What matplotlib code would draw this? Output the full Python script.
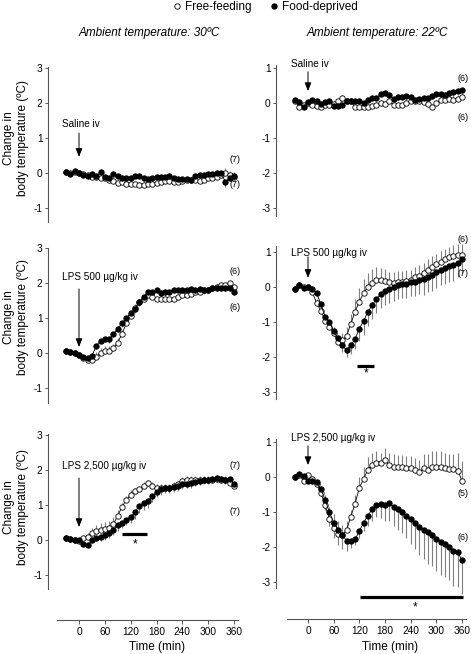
import matplotlib
matplotlib.use("Agg")
import matplotlib.pyplot as plt
from matplotlib.lines import Line2D
import numpy as np

plt.rcParams['font.family'] = ['Liberation Sans', 'DejaVu Sans']

# ---------------- data ----------------
time_min = [-30, -20, -10, 0, 10, 20, 30, 40, 50, 60, 70, 80, 90, 100, 110, 120, 130, 140, 150, 160,
            170, 180, 190, 200, 210, 220, 230, 240, 250, 260, 270, 280, 290, 300, 310, 320, 330, 340, 350, 360]
x_ticks = [0, 60, 120, 180, 240, 300, 360]
y_ticks_30 = [-1, 0, 1, 2, 3]
y_ticks_22 = [-3, -2, -1, 0, 1]

# Saline, 30 C
sal30_free = [0.03, 0.0, 0.04, 0.0, -0.03, -0.07, -0.1, -0.12, -0.15, -0.15,
              -0.2, -0.22, -0.28, -0.25, -0.3, -0.32, -0.3, -0.35, -0.35, -0.32,
              -0.3, -0.28, -0.25, -0.22, -0.22, -0.25, -0.25, -0.22, -0.2, -0.2,
              -0.2, -0.22, -0.2, -0.15, -0.15, -0.12, -0.05, 0.0, -0.05, -0.1]
sal30_free_sem = [0.04, 0.04, 0.04, 0.04, 0.05, 0.05, 0.06, 0.06, 0.07, 0.07,
                  0.07, 0.08, 0.08, 0.08, 0.08, 0.08, 0.08, 0.08, 0.08, 0.08,
                  0.08, 0.08, 0.08, 0.08, 0.08, 0.08, 0.08, 0.08, 0.08, 0.08,
                  0.1, 0.1, 0.1, 0.12, 0.12, 0.12, 0.12, 0.15, 0.12, 0.12]
sal30_fd = [0.04, -0.03, 0.07, 0.0, -0.06, -0.08, -0.03, -0.09, 0.02, -0.1,
            -0.15, -0.03, -0.08, -0.13, -0.15, -0.13, -0.08, -0.08, -0.15, -0.17,
            -0.13, -0.12, -0.1, -0.12, -0.09, -0.15, -0.17, -0.16, -0.18, -0.2,
            -0.08, -0.06, -0.06, -0.02, -0.03, -0.01, -0.01, -0.25, -0.13, -0.08]
sal30_fd_sem = [0.04, 0.04, 0.04, 0.04, 0.05, 0.05, 0.05, 0.05, 0.06, 0.06,
                0.06, 0.06, 0.06, 0.06, 0.07, 0.07, 0.07, 0.07, 0.07, 0.07,
                0.07, 0.07, 0.07, 0.07, 0.07, 0.07, 0.07, 0.07, 0.07, 0.08,
                0.08, 0.08, 0.08, 0.08, 0.08, 0.08, 0.1, 0.15, 0.1, 0.1]

# Saline, 22 C
sal22_free = [0.05, -0.1, -0.05, 0.0, -0.05, -0.08, -0.12, -0.05, -0.05, -0.02,
              0.05, 0.15, 0.05, 0.05, -0.1, -0.1, -0.12, -0.1, -0.08, -0.05,
              0.0, -0.02, 0.05, -0.05, -0.05, -0.05, 0.0, 0.05, 0.05, 0.05,
              0.02, -0.02, -0.12, 0.0, 0.08, 0.1, 0.12, 0.1, 0.12, 0.17]
sal22_free_sem = [0.05, 0.05, 0.05, 0.05, 0.05, 0.06, 0.06, 0.06, 0.06, 0.07,
                  0.07, 0.08, 0.08, 0.08, 0.08, 0.08, 0.08, 0.08, 0.08, 0.08,
                  0.08, 0.08, 0.08, 0.08, 0.08, 0.08, 0.08, 0.08, 0.08, 0.08,
                  0.1, 0.1, 0.1, 0.1, 0.12, 0.12, 0.12, 0.12, 0.12, 0.12]
sal22_fd = [0.1, 0.02, -0.12, 0.02, 0.1, 0.05, -0.02, 0.02, 0.05, -0.08,
            -0.08, -0.05, 0.05, 0.05, 0.05, 0.05, 0.0, 0.1, 0.15, 0.15,
            0.25, 0.28, 0.22, 0.12, 0.18, 0.18, 0.2, 0.18, 0.1, 0.12,
            0.15, 0.15, 0.2, 0.25, 0.25, 0.22, 0.28, 0.32, 0.35, 0.38]
sal22_fd_sem = [0.04, 0.04, 0.05, 0.05, 0.05, 0.05, 0.05, 0.05, 0.05, 0.06,
                0.06, 0.06, 0.06, 0.06, 0.06, 0.06, 0.06, 0.06, 0.06, 0.06,
                0.06, 0.06, 0.06, 0.06, 0.06, 0.06, 0.06, 0.06, 0.06, 0.06,
                0.06, 0.06, 0.06, 0.06, 0.06, 0.06, 0.06, 0.06, 0.06, 0.06]

# LPS 500, 30 C
lps500_30_free = [0.05, 0.02, 0.0, -0.05, -0.15, -0.2, -0.2, -0.1, 0.0, 0.05,
                  0.05, 0.15, 0.3, 0.55, 0.85, 1.05, 1.3, 1.45, 1.55, 1.65,
                  1.6, 1.55, 1.55, 1.55, 1.55, 1.55, 1.6, 1.65, 1.65, 1.7,
                  1.75, 1.75, 1.8, 1.8, 1.85, 1.9, 1.95, 1.95, 2.0, 1.9]
lps500_30_free_sem = [0.04, 0.04, 0.04, 0.04, 0.05, 0.05, 0.08, 0.12, 0.15, 0.15,
                      0.15, 0.12, 0.12, 0.1, 0.1, 0.1, 0.1, 0.08, 0.08, 0.06,
                      0.06, 0.06, 0.06, 0.06, 0.06, 0.06, 0.06, 0.06, 0.06, 0.06,
                      0.06, 0.06, 0.06, 0.06, 0.06, 0.06, 0.06, 0.06, 0.06, 0.06]
lps500_30_fd = [0.05, 0.02, 0.0, -0.05, -0.12, -0.15, -0.08, 0.2, 0.35, 0.4,
                0.4, 0.55, 0.7, 0.85, 1.0, 1.15, 1.25, 1.45, 1.6, 1.75,
                1.75, 1.8, 1.72, 1.75, 1.75, 1.8, 1.8, 1.8, 1.8, 1.82,
                1.8, 1.82, 1.8, 1.8, 1.85, 1.85, 1.85, 1.85, 1.85, 1.75]
lps500_30_fd_sem = [0.04, 0.04, 0.04, 0.04, 0.05, 0.05, 0.06, 0.08, 0.08, 0.08,
                    0.1, 0.1, 0.1, 0.12, 0.12, 0.12, 0.1, 0.1, 0.1, 0.1,
                    0.08, 0.08, 0.08, 0.08, 0.08, 0.08, 0.08, 0.08, 0.08, 0.08,
                    0.08, 0.08, 0.08, 0.08, 0.08, 0.08, 0.08, 0.08, 0.08, 0.08]

# LPS 500, 22 C
lps500_22_free = [-0.05, 0.05, 0.0, 0.0, -0.15, -0.45, -0.68, -0.96, -1.13, -1.32,
                  -1.56, -1.51, -1.4, -1.06, -0.7, -0.42, -0.17, 0.0, 0.11, 0.19,
                  0.2, 0.16, 0.13, 0.12, 0.15, 0.15, 0.18, 0.2, 0.28, 0.32,
                  0.4, 0.5, 0.58, 0.65, 0.72, 0.8, 0.85, 0.9, 0.92, 0.92]
lps500_22_free_sem = [0.05, 0.05, 0.05, 0.05, 0.08, 0.1, 0.12, 0.15, 0.15, 0.18,
                      0.2, 0.2, 0.25, 0.3, 0.35, 0.4, 0.4, 0.4, 0.4, 0.38,
                      0.35, 0.35, 0.3, 0.3, 0.3, 0.3, 0.3, 0.3, 0.3, 0.3,
                      0.3, 0.3, 0.3, 0.3, 0.3, 0.3, 0.3, 0.3, 0.3, 0.3]
lps500_22_fd = [-0.05, 0.05, -0.02, 0.0, -0.05, -0.17, -0.49, -0.85, -1.0, -1.26,
                -1.46, -1.67, -1.8, -1.67, -1.48, -1.19, -0.97, -0.71, -0.52, -0.34,
                -0.2, -0.12, -0.06, 0.0, 0.05, 0.08, 0.1, 0.15, 0.15, 0.2,
                0.22, 0.3, 0.35, 0.42, 0.5, 0.55, 0.6, 0.62, 0.68, 0.8]
lps500_22_fd_sem = [0.05, 0.05, 0.05, 0.05, 0.08, 0.1, 0.12, 0.15, 0.15, 0.15,
                    0.15, 0.18, 0.2, 0.25, 0.3, 0.35, 0.4, 0.4, 0.4, 0.4,
                    0.4, 0.4, 0.4, 0.4, 0.4, 0.4, 0.4, 0.4, 0.4, 0.4,
                    0.45, 0.45, 0.45, 0.45, 0.45, 0.45, 0.45, 0.45, 0.4, 0.4]

# LPS 2500, 30 C
lps2500_30_free = [0.05, 0.02, 0.0, -0.02, 0.05, 0.1, 0.2, 0.25, 0.3, 0.32,
                   0.35, 0.45, 0.7, 0.95, 1.15, 1.3, 1.4, 1.45, 1.55, 1.62,
                   1.55, 1.5, 1.5, 1.5, 1.5, 1.55, 1.6, 1.7, 1.72, 1.72,
                   1.72, 1.72, 1.72, 1.72, 1.72, 1.75, 1.72, 1.72, 1.62, 1.55]
lps2500_30_free_sem = [0.04, 0.04, 0.04, 0.04, 0.06, 0.1, 0.15, 0.18, 0.2, 0.2,
                       0.2, 0.2, 0.15, 0.12, 0.12, 0.12, 0.1, 0.1, 0.1, 0.1,
                       0.1, 0.1, 0.1, 0.1, 0.1, 0.1, 0.1, 0.1, 0.1, 0.1,
                       0.1, 0.1, 0.1, 0.1, 0.1, 0.1, 0.1, 0.1, 0.1, 0.1]
lps2500_30_fd = [0.05, 0.02, 0.0, 0.0, -0.1, -0.15, 0.0, 0.06, 0.1, 0.15,
                 0.2, 0.3, 0.42, 0.5, 0.58, 0.65, 0.8, 0.98, 1.05, 1.12,
                 1.25, 1.37, 1.45, 1.5, 1.5, 1.52, 1.55, 1.6, 1.6, 1.62,
                 1.65, 1.7, 1.72, 1.72, 1.75, 1.78, 1.75, 1.72, 1.75, 1.6]
lps2500_30_fd_sem = [0.04, 0.04, 0.04, 0.04, 0.05, 0.06, 0.08, 0.1, 0.12, 0.15,
                     0.15, 0.15, 0.15, 0.15, 0.15, 0.15, 0.2, 0.2, 0.2, 0.2,
                     0.15, 0.15, 0.15, 0.15, 0.15, 0.15, 0.15, 0.15, 0.12, 0.12,
                     0.12, 0.12, 0.12, 0.12, 0.12, 0.12, 0.12, 0.12, 0.12, 0.12]

# LPS 2500, 22 C
lps2500_22_free = [0.0, 0.05, -0.12, 0.05, -0.05, -0.2, -0.45, -0.8, -1.2, -1.45,
                   -1.62, -1.67, -1.52, -1.14, -0.76, -0.31, -0.05, 0.21, 0.35, 0.4,
                   0.4, 0.48, 0.35, 0.3, 0.28, 0.28, 0.25, 0.25, 0.2, 0.15,
                   0.25, 0.2, 0.3, 0.3, 0.28, 0.25, 0.22, 0.22, 0.18, -0.1]
lps2500_22_free_sem = [0.05, 0.05, 0.05, 0.05, 0.08, 0.12, 0.2, 0.3, 0.35, 0.4,
                       0.35, 0.3, 0.25, 0.2, 0.25, 0.3, 0.35, 0.35, 0.35, 0.35,
                       0.3, 0.35, 0.35, 0.35, 0.35, 0.35, 0.35, 0.35, 0.35, 0.35,
                       0.4, 0.45, 0.45, 0.45, 0.45, 0.45, 0.45, 0.45, 0.5, 0.55]
lps2500_22_fd = [0.0, 0.1, 0.02, -0.12, -0.12, -0.15, -0.35, -0.65, -1.0, -1.3,
                 -1.5, -1.65, -1.82, -1.82, -1.78, -1.55, -1.3, -1.1, -0.92, -0.8,
                 -0.78, -0.8, -0.75, -0.85, -0.9, -1.0, -1.1, -1.2, -1.3, -1.42,
                 -1.5, -1.58, -1.65, -1.78, -1.85, -1.9, -2.0, -2.1, -2.15, -2.38]
lps2500_22_fd_sem = [0.05, 0.05, 0.05, 0.05, 0.08, 0.12, 0.2, 0.3, 0.4, 0.45,
                     0.45, 0.4, 0.3, 0.2, 0.15, 0.2, 0.25, 0.3, 0.35, 0.35,
                     0.4, 0.45, 0.5, 0.55, 0.6, 0.6, 0.65, 0.7, 0.75, 0.8,
                     0.85, 0.9, 0.9, 0.9, 0.95, 0.95, 0.95, 1.0, 1.0, 0.95]

W, H = 471, 654
fig = plt.figure(figsize=(W / 100, H / 100), dpi=100)

UNIT = 35.0  # px per degree
MS = 3.9


def make_ax(left_px, width_px, zero_px, top_px, bottom_px, xmin, xmax):
    ax = fig.add_axes([left_px / W, 1 - bottom_px / H, width_px / W, (bottom_px - top_px) / H])
    ax.set_ylim(-(bottom_px - zero_px) / UNIT, (zero_px - top_px) / UNIT)
    ax.set_xlim(xmin, xmax)
    ax.patch.set_visible(False)
    for s in ['top', 'right']:
        ax.spines[s].set_visible(False)
    ax.spines['left'].set_color('#555555')
    ax.spines['left'].set_linewidth(0.8)
    ax.tick_params(axis='y', direction='out', length=2.5, width=0.7, color='#555555',
                   labelsize=7.3, pad=1.5)
    return ax


LX0, LX1 = -72.0, -72.0 + 192 / 0.4306
RX0, RX1 = -74.8, -74.8 + 192 / 0.4278

panels = [
    (make_ax(48, 192, 173, 67, 222, LX0, LX1), sal30_free, sal30_free_sem, sal30_fd, sal30_fd_sem, y_ticks_30),
    (make_ax(276, 192, 103, 65, 216, RX0, RX1), sal22_free, sal22_free_sem, sal22_fd, sal22_fd_sem, y_ticks_22),
    (make_ax(48, 192, 353, 248, 403, LX0, LX1), lps500_30_free, lps500_30_free_sem, lps500_30_fd, lps500_30_fd_sem, y_ticks_30),
    (make_ax(276, 192, 287, 246, 399, RX0, RX1), lps500_22_free, lps500_22_free_sem, lps500_22_fd, lps500_22_fd_sem, y_ticks_22),
    (make_ax(48, 192, 540, 434, 589, LX0, LX1), lps2500_30_free, lps2500_30_free_sem, lps2500_30_fd, lps2500_30_fd_sem, y_ticks_30),
    (make_ax(276, 192, 477, 439, 588, RX0, RX1), lps2500_22_free, lps2500_22_free_sem, lps2500_22_fd, lps2500_22_fd_sem, y_ticks_22),
]

t = np.array(time_min)
for i, (ax, fr, fr_sem, fd, fd_sem, yt) in enumerate(panels):
    fr = np.array(fr); fd = np.array(fd)
    fr_sem = np.array(fr_sem); fd_sem = np.array(fd_sem)
    z = np.zeros_like(fr)
    ax.errorbar(t, fr, yerr=[z, fr_sem], fmt='none', ecolor='#7f7f7f', elinewidth=0.8,
                capsize=0, zorder=1, clip_on=False)
    ax.errorbar(t, fd, yerr=[fd_sem, z], fmt='none', ecolor='#7f7f7f', elinewidth=0.8,
                capsize=0, zorder=1, clip_on=False)
    ax.plot(t, fr, '-o', color='black', lw=0.6, ms=MS, mfc='white', mec='black',
            mew=0.6, zorder=3, clip_on=False)
    ax.plot(t, fd, '-o', color='black', lw=0.6, ms=MS, mfc='black', mec='black',
            mew=0.6, zorder=4, clip_on=False)
    ax.set_yticks(yt)
    ax.set_yticklabels([str(v) for v in yt])
    if i < 4:
        ax.spines['bottom'].set_visible(False)
        ax.tick_params(axis='x', bottom=False, labelbottom=False)
    else:
        ax.spines['bottom'].set_position(('outward', 22.5))
        ax.spines['bottom'].set_bounds(-50, 370)
        ax.spines['bottom'].set_color('#555555')
        ax.spines['bottom'].set_linewidth(0.8)
        ax.set_xticks(x_ticks)
        ax.set_xticklabels([str(v) for v in x_ticks])
        ax.tick_params(axis='x', direction='out', length=3, width=0.7, color='#555555',
                       labelsize=7.3, pad=2)

# arrows and injection labels: (panel, label, text_y, tail_y, head_y)
arrow_info = [
    (0, 'Saline iv', 1.40, 1.14, 0.46),
    (1, 'Saline iv', 1.11, 0.89, 0.34),
    (2, 'LPS 500 µg/kg iv', 2.17, 1.83, 0.17),
    (3, 'LPS 500 µg/kg iv', 0.97, 0.86, 0.26),
    (4, 'LPS 2,500 µg/kg iv', 2.11, 1.77, 0.37),
    (5, 'LPS 2,500 µg/kg iv', 1.11, 0.89, 0.34),
]
for idx, label, ty, y_tail, y_head in arrow_info:
    ax = panels[idx][0]
    ax.annotate('', xy=(0, y_head), xytext=(0, y_tail),
                arrowprops=dict(arrowstyle='-|>,head_length=0.5,head_width=0.2', color='black',
                                lw=0.7, shrinkA=0, shrinkB=0),
                annotation_clip=False)
    ax.text(-40, ty, label, fontsize=7.2, ha='left', va='center', clip_on=False)

# sample sizes
n_info = [
    (0, '(7)', 0.40), (0, '(7)', -0.34),
    (1, '(6)', 0.71), (1, '(6)', -0.40),
    (2, '(6)', 2.34), (2, '(6)', 1.29),
    (3, '(6)', 1.37), (3, '(7)', 0.40),
    (4, '(7)', 2.14), (4, '(7)', 0.80),
    (5, '(5)', -0.46), (5, '(6)', -1.74),
]
for idx, label, y in n_info:
    panels[idx][0].text(362, y, label, fontsize=6.5, ha='center', va='center', clip_on=False)

# significance bars: (panel, x0, x1, y_bar, x_star, y_star)
sig_info = [
    (4, 101, 159, 0.16, 130, -0.12),
    (3, 114, 154, -2.25, 135, -2.47),
    (5, 121, 362, -3.43, 250, -3.72),
]
for idx, x0, x1, yb, xs, ys in sig_info:
    ax = panels[idx][0]
    ax.plot([x0, x1], [yb, yb], color='black', lw=2.3, solid_capstyle='butt', clip_on=False)
    ax.text(xs, ys, '*', fontsize=8.5, ha='center', va='center', clip_on=False)

# y labels
for yc in [138, 317, 507]:
    fig.text(16 / W, 1 - yc / H, 'Change in\nbody temperature (ºC)', rotation=90,
             ha='center', va='center', fontsize=8.5, multialignment='center', linespacing=1.15)

# x labels
fig.text(157 / W, 1 - 647 / H, 'Time (min)', ha='center', va='center', fontsize=8.5)
fig.text(390 / W, 1 - 647 / H, 'Time (min)', ha='center', va='center', fontsize=8.5)

# column titles
fig.text(149 / W, 1 - 33 / H, 'Ambient temperature: 30ºC', ha='center', va='center',
         fontsize=8.5, style='italic')
fig.text(377 / W, 1 - 33 / H, 'Ambient temperature: 22ºC', ha='center', va='center',
         fontsize=8.5, style='italic')

# legend
leg_handles = [Line2D([], [], ls='none', marker='o', ms=MS, mfc='white', mec='black', mew=0.6),
               Line2D([], [], ls='none', marker='o', ms=MS, mfc='black', mec='black', mew=0.6)]
fig.legend(leg_handles, ['Free-feeding', 'Food-deprived'], loc='upper center',
           bbox_to_anchor=(265.5 / W, 0.999), ncol=2, frameon=False, fontsize=8.5,
           handlelength=0.6, handletextpad=0.4, columnspacing=1.6, borderaxespad=0,
           borderpad=0)

fig.savefig('out.png', dpi=100)
